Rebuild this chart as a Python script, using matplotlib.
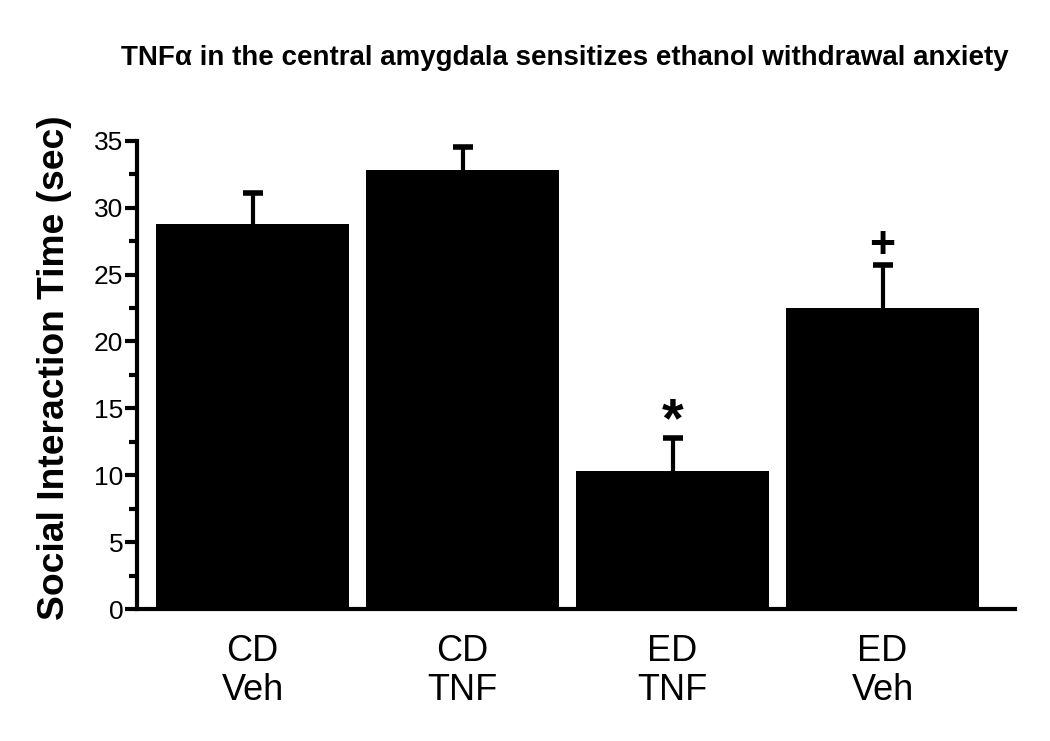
import matplotlib.pyplot as plt
from matplotlib.ticker import MultipleLocator

plt.rcParams['font.family'] = ['Liberation Sans', 'DejaVu Sans']

groups = ["CD\nVeh", "CD\nTNF", "ED\nTNF", "ED\nVeh"]
means = [28.8, 32.8, 10.3, 22.5]
sem = [2.3, 1.7, 2.5, 3.2]
marks = ["", "", "*", "+"]
mark_y = [0, 0, 14.0, 27.1]

fig = plt.figure(figsize=(10.5, 7.41), dpi=100)
ax = fig.add_axes([0.1305, 0.178, 0.836, 0.632])

x = range(len(groups))
ax.bar(x, means, width=0.92, color="black", zorder=2)
eb = ax.errorbar(x, means, yerr=[[0] * 4, sem], fmt="none", ecolor="black",
                 elinewidth=3, capsize=7, capthick=4, zorder=1)
eb[1][0].set_visible(False)

for i, m in enumerate(marks):
    if m:
        size = 40 if m == "*" else 32
        ax.text(i, mark_y[i], m, ha="center", va="center", fontsize=size,
                fontweight="bold")

ax.set_xlim(-0.55, 3.63)
ax.set_ylim(0, 35)
ax.yaxis.set_major_locator(MultipleLocator(5))
ax.yaxis.set_minor_locator(MultipleLocator(2.5))
ax.set_xticks(list(x))
ax.set_xticklabels(groups, fontsize=26, linespacing=1.15)
ax.tick_params(axis="x", length=0, pad=18)
ax.tick_params(axis="y", which="major", length=9, width=3, labelsize=19, pad=1)
ax.tick_params(axis="y", which="minor", length=6, width=3)

for s in ["top", "right"]:
    ax.spines[s].set_visible(False)
ax.spines["left"].set_linewidth(3)
ax.spines["bottom"].set_linewidth(3)

ax.set_ylabel("Social Interaction Time (sec)", fontsize=26.8, fontweight="bold", labelpad=16)
ax.yaxis.label.set_y(0.515)
fig.text(0.538, 0.922, "TNF\u03b1 in the central amygdala sensitizes ethanol withdrawal anxiety",
         ha="center", va="center", fontsize=20, fontweight="bold")

fig.savefig("out.png", dpi=100)
